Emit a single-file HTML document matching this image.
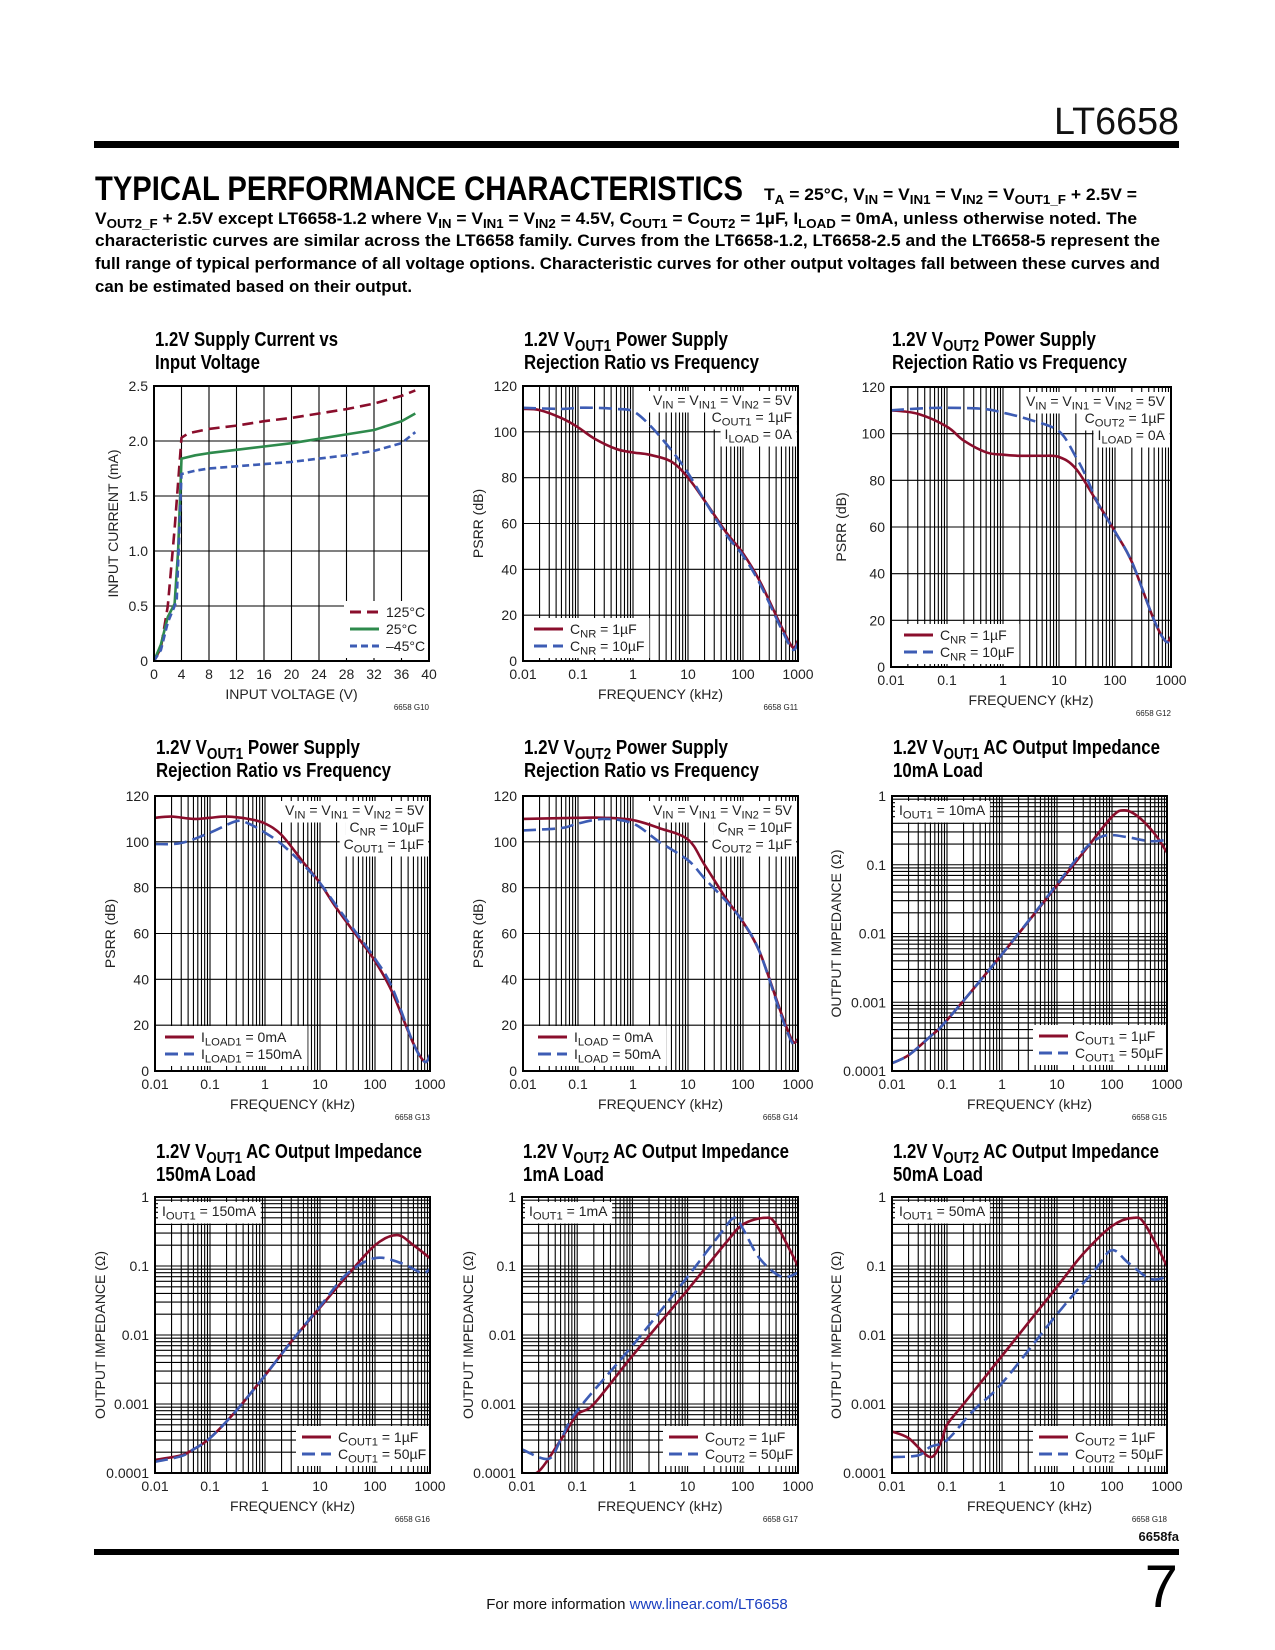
<!DOCTYPE html>
<html><head><meta charset="utf-8"><title>LT6658 Typical Performance Characteristics</title>
<style>
html,body{margin:0;padding:0;background:#fff;}
svg{display:block;font-family:"Liberation Sans",sans-serif;}
</style></head>
<body>
<svg id="page" xmlns="http://www.w3.org/2000/svg" width="1275" height="1650" viewBox="0 0 1275 1650">
<rect x="0" y="0" width="1275" height="1650" fill="#fff"/>
<text x="1179" y="134" text-anchor="end" font-size="38" textLength="125" lengthAdjust="spacingAndGlyphs" fill="#111">LT6658</text>
<rect x="94" y="141" width="1085" height="7" fill="#000"/>
<text x="95" y="200" font-size="34" font-weight="bold" textLength="648" lengthAdjust="spacingAndGlyphs" fill="#000">TYPICAL PERFORMANCE CHARACTERISTICS</text>
<g font-weight="bold" font-size="17" fill="#000">
<text x="764" y="200" textLength="373" lengthAdjust="spacingAndGlyphs">T<tspan font-size="13" dy="4">A</tspan><tspan dy="-4"> = 25°C, V</tspan><tspan font-size="13" dy="4">IN</tspan><tspan dy="-4"> = V</tspan><tspan font-size="13" dy="4">IN1</tspan><tspan dy="-4"> = V</tspan><tspan font-size="13" dy="4">IN2</tspan><tspan dy="-4"> = V</tspan><tspan font-size="13" dy="4">OUT1_F</tspan><tspan dy="-4"> + 2.5V =</tspan></text>
<text x="95" y="224" textLength="1042" lengthAdjust="spacingAndGlyphs">V<tspan font-size="13" dy="4">OUT2_F</tspan><tspan dy="-4"> + 2.5V except LT6658-1.2 where V</tspan><tspan font-size="13" dy="4">IN</tspan><tspan dy="-4"> = V</tspan><tspan font-size="13" dy="4">IN1</tspan><tspan dy="-4"> = V</tspan><tspan font-size="13" dy="4">IN2</tspan><tspan dy="-4"> = 4.5V, C</tspan><tspan font-size="13" dy="4">OUT1</tspan><tspan dy="-4"> = C</tspan><tspan font-size="13" dy="4">OUT2</tspan><tspan dy="-4"> = 1µF, I</tspan><tspan font-size="13" dy="4">LOAD</tspan><tspan dy="-4"> = 0mA, unless otherwise noted. The</tspan></text>
<text x="95" y="246" textLength="1065" lengthAdjust="spacingAndGlyphs">characteristic curves are similar across the LT6658 family. Curves from the LT6658-1.2, LT6658-2.5 and the LT6658-5 represent the</text>
<text x="95" y="269" textLength="1065" lengthAdjust="spacingAndGlyphs">full range of typical performance of all voltage options. Characteristic curves for other output voltages fall between these curves and</text>
<text x="95" y="292" textLength="317" lengthAdjust="spacingAndGlyphs">can be estimated based on their output.</text>
</g>
<defs id="defs"></defs>
<g id="charts"></g>
<text x="1179" y="1541" text-anchor="end" font-size="13" font-weight="bold" fill="#111">6658fa</text>
<rect x="94" y="1549" width="1085" height="6" fill="#000"/>
<text x="1178" y="1607" text-anchor="end" font-size="60" fill="#000">7</text>
<text x="637" y="1609" text-anchor="middle" font-size="15" fill="#111">For more information <tspan fill="#1a3fc0">www.linear.com/LT6658</tspan></text>
</svg>
<script>
// ---- G10 supply current vs input voltage ----
const g10HotVolt=[0,1,2,3,4,5,8,12,16,20,24,28,32,36,38];
const g10Hot=[0,0.12,0.5,1.2,2.03,2.07,2.11,2.14,2.18,2.21,2.25,2.29,2.34,2.41,2.46];
const g10RoomVolt=[0,1,2,3,3.5,4,6,8,12,16,20,24,28,32,36,38];
const g10Room=[0,0.15,0.4,0.52,1.0,1.84,1.87,1.89,1.92,1.95,1.98,2.02,2.06,2.1,2.18,2.25];
const g10ColdVolt=[0,1,2,3,3.3,4,6,8,12,16,20,24,28,32,36,38];
const g10Cold=[0,0.1,0.35,0.5,0.55,1.7,1.73,1.75,1.77,1.79,1.81,1.84,1.87,1.91,1.98,2.08];
const g10XTicks=[0,4,8,12,16,20,24,28,32,36,40];
const g10YTicks=[0,0.5,1.0,1.5,2.0,2.5];
const g10YLabels=['0','0.5','1.0','1.5','2.0','2.5'];
// ---- frequency axis shared ----
const freqTicks=[0.01,0.1,1,10,100,1000];
const freqLabels=['0.01','0.1','1','10','100','1000'];
const psrrTicks=[0,20,40,60,80,100,120];
const zTicks=[0.0001,0.001,0.01,0.1,1];
const zLabels=['0.0001','0.001','0.01','0.1','1'];
// ---- G11 ----
const g11FreqA=[0.01,0.02,0.05,0.1,0.2,0.5,1,2,5,10,20,50,100,200,500,800,1000];
const g11Cnr1=[110,109.5,106,102,97,92.5,91,90,87,80,70,56,47,35,15,6,9];
const g11FreqB=[0.01,0.05,0.1,0.2,0.5,1,2,5,10,20,50,100,200,500,800,1000];
const g11Cnr10=[110.5,110,110.5,110.5,110,109,103,92,82,70,55,46,34,14,5,8];
// ---- G12 ----
const g12FreqA=[0.01,0.03,0.1,0.2,0.5,1,2,5,10,20,50,100,200,500,800,1000];
const g12Cnr1=[110,108.5,103,97,92,91,90.5,90.5,90,85,70,58,45,20,11,13];
const g12FreqB=[0.01,0.05,0.2,0.5,1,3,10,20,30,50,100,200,500,800,1000];
const g12Cnr10=[110,111,111,110.5,109,106,101,90,82,70,58,45,20,11,12];
// ---- G13 ----
const g13FreqA=[0.01,0.02,0.05,0.1,0.2,0.5,1,2,5,10,20,50,100,200,500,800,1000];
const g13Load0=[110.5,111,110,110.5,111,110,108,103,91,82,71,58,48,35,12,4,7];
const g13FreqB=[0.01,0.03,0.1,0.3,0.5,1,2,5,10,20,50,100,200,500,800,1000];
const g13Load150=[99,99.5,104,109,108,104,99,90,82,72,59,49,37,12,4,7];
// ---- G14 ----
const g14FreqA=[0.01,0.1,0.3,1,3,10,20,50,100,200,500,800,1000];
const g14Load0=[110,110.5,110.5,109.5,106,101,90,75,65,52,25,13,14];
const g14FreqB=[0.01,0.05,0.1,0.3,1,3,10,20,50,100,200,500,800,1000];
const g14Load50=[105,106,108,110,108,100,92,84,74,65,52,24,12,13];
// ---- G15 ----
const g15FreqA=[0.01,0.02,0.05,0.1,1,10,30,100,170,300,600,1000];
const g15C1=[0.00013,0.00017,0.00032,0.00055,0.005,0.05,0.15,0.5,0.62,0.5,0.28,0.15];
const g15FreqB=[0.01,0.02,0.05,0.1,1,10,30,60,100,200,500,1000];
const g15C50=[0.00013,0.00017,0.00032,0.00055,0.005,0.052,0.16,0.25,0.27,0.25,0.22,0.23];
// ---- G16 ----
const g16FreqA=[0.01,0.03,0.05,0.1,0.3,1,3,10,30,100,250,500,1000];
const g16C1=[0.000155,0.00018,0.00022,0.00032,0.0008,0.0026,0.008,0.025,0.07,0.2,0.28,0.2,0.13];
const g16FreqB=[0.01,0.03,0.05,0.1,0.3,1,3,10,30,100,300,700,1000];
const g16C50=[0.000145,0.000175,0.00022,0.00032,0.0008,0.0026,0.008,0.026,0.075,0.13,0.11,0.08,0.09];
// ---- G17 ----
const g17FreqA=[0.01,0.02,0.05,0.1,0.2,1,10,50,100,250,400,1000];
const g17C1=[0.0001,0.000105,0.0003,0.0007,0.001,0.005,0.045,0.22,0.4,0.5,0.4,0.1];
const g17FreqB=[0.01,0.03,0.05,0.1,1,10,40,70,100,200,500,1000];
const g17C50=[0.00022,0.00016,0.0003,0.0008,0.007,0.07,0.3,0.5,0.35,0.13,0.07,0.08];
// ---- G18 ----
const g18FreqA=[0.01,0.02,0.05,0.08,0.1,0.2,1,10,30,100,250,400,1000];
const g18C1=[0.0004,0.00032,0.00017,0.0003,0.0005,0.001,0.005,0.05,0.15,0.38,0.5,0.4,0.1];
const g18FreqB=[0.01,0.03,0.05,0.1,0.3,1,10,50,100,200,500,1000];
const g18C50=[0.00017,0.00018,0.00024,0.0003,0.0008,0.002,0.02,0.09,0.17,0.11,0.065,0.07];

const NS='http://www.w3.org/2000/svg';
const RED='#8a0e2c', BLUE='#3d5cb4', GREEN='#2e8a4c';
const root=document.getElementById('charts');
const defs=document.getElementById('defs');

function mk(tag,parent){const e=document.createElementNS(NS,tag);parent.appendChild(e);return e;}
function rich(parent,x,y,str,size,anchor){
  const t=mk('text',parent);
  t.setAttribute('x',x);t.setAttribute('y',y);
  t.setAttribute('font-size',size);t.setAttribute('fill','#222');
  if(anchor)t.setAttribute('text-anchor',anchor);
  const parts=str.split(/(_\{[^}]*\})/);
  let sub=false;
  parts.forEach(p=>{
    if(!p)return;
    const ts=mk('tspan',t);
    if(p.startsWith('_{')){ts.textContent=p.slice(2,-1);ts.setAttribute('font-size',size*0.8);ts.setAttribute('dy',sub?0:size*0.25);sub=true;}
    else{ts.textContent=p;if(sub){ts.setAttribute('dy',-size*0.25);sub=false;}}
  });
  return t;
}
function smoothPath(pts){
  let d='M'+pts[0][0].toFixed(1)+','+pts[0][1].toFixed(1);
  for(let i=0;i<pts.length-1;i++){
    const p0=pts[i-1]||pts[i],p1=pts[i],p2=pts[i+1],p3=pts[i+2]||p2;
    const c1=[p1[0]+(p2[0]-p0[0])/6,p1[1]+(p2[1]-p0[1])/6];
    const c2=[p2[0]-(p3[0]-p1[0])/6,p2[1]-(p3[1]-p1[1])/6];
    d+='C'+c1[0].toFixed(1)+','+c1[1].toFixed(1)+' '+c2[0].toFixed(1)+','+c2[1].toFixed(1)+' '+p2[0].toFixed(1)+','+p2[1].toFixed(1);
  }
  return d;
}
function linePath(pts){return 'M'+pts.map(p=>p[0].toFixed(1)+','+p[1].toFixed(1)).join('L');}

function drawChart(c){
  const g=mk('g',root);
  
  
  const W=c.x1-c.x0,H=c.y1-c.y0;
  const cp=mk('clipPath',defs);cp.setAttribute('id','clip-'+c.id);
  const cr=mk('rect',cp);cr.setAttribute('x',c.x0);cr.setAttribute('y',c.y0);cr.setAttribute('width',W);cr.setAttribute('height',H);
  const sx=c.xlog?(v=>c.x0+(Math.log10(v)-Math.log10(c.xmin))/(Math.log10(c.xmax)-Math.log10(c.xmin))*W):(v=>c.x0+(v-c.xmin)/(c.xmax-c.xmin)*W);
  const sy=c.ylog?(v=>c.y1-(Math.log10(v)-Math.log10(c.ymin))/(Math.log10(c.ymax)-Math.log10(c.ymin))*H):(v=>c.y1-(v-c.ymin)/(c.ymax-c.ymin)*H);
  c.title.forEach((tl,i)=>{
    const t=rich(g,c.x0+1,c.titleY+i*23,tl.s,20,null);
    t.setAttribute('font-weight','bold');t.setAttribute('fill','#000');
    t.setAttribute('textLength',tl.w);t.setAttribute('lengthAdjust','spacingAndGlyphs');
    
    
  });
  const grid=mk('g',g);
  grid.setAttribute('stroke','#000');grid.setAttribute('stroke-width','1.1');
  
  
  const vx=[],hy=[];
  if(c.xlog){for(let d=-2;d<3;d++)for(let m=1;m<10;m++)vx.push(m*Math.pow(10,d));}
  else c.xticks.forEach(v=>vx.push(v));
  if(c.ylog){for(let d=-4;d<0;d++)for(let m=1;m<10;m++)hy.push(m*Math.pow(10,d));}
  else c.yticks.forEach(v=>hy.push(v));
  vx.forEach(v=>{const l=mk('line',grid);const x=sx(v);l.setAttribute('x1',x);l.setAttribute('x2',x);l.setAttribute('y1',c.y0);l.setAttribute('y2',c.y1);});
  hy.forEach(v=>{const l=mk('line',grid);const y=sy(v);l.setAttribute('x1',c.x0);l.setAttribute('x2',c.x1);l.setAttribute('y1',y);l.setAttribute('y2',y);});
  const boxes=mk('g',g);
  const ser=mk('g',g);
  ser.setAttribute('clip-path','url(#clip-'+c.id+')');
  c.series.forEach(s=>{
    const pts=s.x.map((v,i)=>[sx(v),sy(s.y[i])]);
    const p=mk('path',ser);
    p.setAttribute('d',c.smooth?smoothPath(pts):linePath(pts));
    p.setAttribute('fill','none');p.setAttribute('stroke',s.color);p.setAttribute('stroke-width','2.6');
    p.setAttribute('stroke-linejoin','round');
    if(s.dash)p.setAttribute('stroke-dasharray',s.dash);
    
    
  });
  const b=mk('rect',g);
  b.setAttribute('x',c.x0);b.setAttribute('y',c.y0);b.setAttribute('width',W);b.setAttribute('height',H);
  b.setAttribute('fill','none');b.setAttribute('stroke','#000');b.setAttribute('stroke-width','2');
  
  
  c.xticks.forEach((v,i)=>{
    const t=rich(g,sx(v),c.y1+18,c.xlabels?c.xlabels[i]:String(v),14,'middle');
    
    
  });
  c.yticks.forEach((v,i)=>{
    const t=rich(g,c.x0-6,sy(v)+5,c.ylabels?c.ylabels[i]:String(v),14,'end');
    
    
  });
  const xt=rich(g,(c.x0+c.x1)/2,c.y1+38,c.xtitle,14,'middle');
  
  
  const yt=rich(g,0,0,c.ytitle,14,'middle');
  yt.setAttribute('transform','translate('+(c.ytx+5)+','+((c.y0+c.y1)/2)+') rotate(-90)');
  
  
  const num=rich(g,c.x1,c.y1+49,c.code,8,'end');
  
  
  function whiteBehind(t){const bb=t.getBBox();const r=mk('rect',boxes);r.setAttribute('x',bb.x-4);r.setAttribute('y',bb.y-1);r.setAttribute('width',bb.width+8);r.setAttribute('height',bb.height+2);r.setAttribute('fill','#fff');}
  (c.annot||[]).forEach((a,i)=>{
    const t=rich(g,c.annotRight?c.x1-6:c.x0+7,c.y0+c.annotDy+i*17,a,14,c.annotRight?'end':'start');
    
    
    whiteBehind(t);
  });
  const lg=mk('g',g);
  
  
  const lb=mk('rect',boxes);
  lb.setAttribute('fill','#fff');
  let minx=1e9,maxx=-1e9;
  c.legend.forEach((e,i)=>{
    const y=c.y1+c.legDy+i*17;
    const l=mk('line',lg);
    l.setAttribute('x1',c.legX);l.setAttribute('x2',c.legX+29);l.setAttribute('y1',y);l.setAttribute('y2',y);
    l.setAttribute('stroke',e.color);l.setAttribute('stroke-width','3');
    if(e.dash)l.setAttribute('stroke-dasharray',e.dash);
    
    
    const t=rich(lg,c.legX+36,y+5,e.s,14,null);
    
    
    const bb=t.getBBox();minx=Math.min(minx,c.legX-6);maxx=Math.max(maxx,bb.x+bb.width+5);
  });
  const ly=c.y1+c.legDy-11;
  lb.setAttribute('x',minx);lb.setAttribute('y',ly);lb.setAttribute('width',Math.min(maxx,c.x1)-minx);lb.setAttribute('height',c.legend.length*17+6);
}

const psrrY='PSRR (dB)', zY='OUTPUT IMPEDANCE (Ω)', fX='FREQUENCY (kHz)';
const baseLog={xlog:true,xmin:0.01,xmax:1000,xticks:freqTicks,xlabels:freqLabels,xtitle:fX,smooth:true};
const psrr=Object.assign({},baseLog,{ymin:0,ymax:120,yticks:psrrTicks,ytitle:psrrY,annotRight:true,annotDy:19});
const imp=Object.assign({},baseLog,{ylog:true,ymin:0.0001,ymax:1,yticks:zTicks,ylabels:zLabels,ytitle:zY,annotRight:false,annotDy:19});

drawChart({id:'g10',code:'6658 G10',x0:154,y0:386,x1:429,y1:661,xmin:0,xmax:40,ymin:0,ymax:2.5,xticks:g10XTicks,yticks:g10YTicks,ylabels:g10YLabels,
  xtitle:'INPUT VOLTAGE (V)',ytitle:'INPUT CURRENT (mA)',ytx:113,titleY:346,smooth:false,
  title:[{s:'1.2V Supply Current vs',w:183},{s:'Input Voltage',w:105}],
  series:[{name:'series-125c',x:g10HotVolt,y:g10Hot,color:RED,dash:'11,6'},{name:'series-25c',x:g10RoomVolt,y:g10Room,color:GREEN},{name:'series-minus45c',x:g10ColdVolt,y:g10Cold,color:BLUE,dash:'7,4'}],
  legX:350,legDy:-49,legend:[{s:'125°C',color:RED,dash:'11,6'},{s:'25°C',color:GREEN},{s:'–45°C',color:BLUE,dash:'7,4'}]});

drawChart(Object.assign({},psrr,{id:'g11',code:'6658 G11',x0:523,y0:386,x1:798,y1:661,ytx:478,titleY:346,
  title:[{s:'1.2V V_{OUT1} Power Supply',w:204},{s:'Rejection Ratio vs Frequency',w:235}],
  annot:['V_{IN} = V_{IN1} = V_{IN2} = 5V','C_{OUT1} = 1µF','I_{LOAD} = 0A'],
  series:[{name:'series-cnr-1uf',x:g11FreqA,y:g11Cnr1,color:RED},{name:'series-cnr-10uf',x:g11FreqB,y:g11Cnr10,color:BLUE,dash:'13,6'}],
  legX:534,legDy:-32,legend:[{s:'C_{NR} = 1µF',color:RED},{s:'C_{NR} = 10µF',color:BLUE,dash:'13,6'}]}));

drawChart(Object.assign({},psrr,{id:'g12',code:'6658 G12',x0:891,y0:387,x1:1171,y1:667,ytx:841,titleY:346,
  title:[{s:'1.2V V_{OUT2} Power Supply',w:204},{s:'Rejection Ratio vs Frequency',w:235}],
  annot:['V_{IN} = V_{IN1} = V_{IN2} = 5V','C_{OUT2} = 1µF','I_{LOAD} = 0A'],
  series:[{name:'series-cnr-1uf',x:g12FreqA,y:g12Cnr1,color:RED},{name:'series-cnr-10uf',x:g12FreqB,y:g12Cnr10,color:BLUE,dash:'13,6'}],
  legX:904,legDy:-32,legend:[{s:'C_{NR} = 1µF',color:RED},{s:'C_{NR} = 10µF',color:BLUE,dash:'13,6'}]}));

drawChart(Object.assign({},psrr,{id:'g13',code:'6658 G13',x0:155,y0:796,x1:430,y1:1071,ytx:110,titleY:754,
  title:[{s:'1.2V V_{OUT1} Power Supply',w:204},{s:'Rejection Ratio vs Frequency',w:235}],
  annot:['V_{IN} = V_{IN1} = V_{IN2} = 5V','C_{NR} = 10µF','C_{OUT1} = 1µF'],
  series:[{name:'series-iload-0ma',x:g13FreqA,y:g13Load0,color:RED},{name:'series-iload-150ma',x:g13FreqB,y:g13Load150,color:BLUE,dash:'13,6'}],
  legX:165,legDy:-34,legend:[{s:'I_{LOAD1} = 0mA',color:RED},{s:'I_{LOAD1} = 150mA',color:BLUE,dash:'13,6'}]}));

drawChart(Object.assign({},psrr,{id:'g14',code:'6658 G14',x0:523,y0:796,x1:798,y1:1071,ytx:478,titleY:754,
  title:[{s:'1.2V V_{OUT2} Power Supply',w:204},{s:'Rejection Ratio vs Frequency',w:235}],
  annot:['V_{IN} = V_{IN1} = V_{IN2} = 5V','C_{NR} = 10µF','C_{OUT2} = 1µF'],
  series:[{name:'series-iload-0ma',x:g14FreqA,y:g14Load0,color:RED},{name:'series-iload-50ma',x:g14FreqB,y:g14Load50,color:BLUE,dash:'13,6'}],
  legX:538,legDy:-34,legend:[{s:'I_{LOAD} = 0mA',color:RED},{s:'I_{LOAD} = 50mA',color:BLUE,dash:'13,6'}]}));

drawChart(Object.assign({},imp,{id:'g15',code:'6658 G15',x0:892,y0:796,x1:1167,y1:1071,ytx:836,titleY:754,
  title:[{s:'1.2V V_{OUT1} AC Output Impedance',w:267},{s:'10mA Load',w:90}],
  annot:['I_{OUT1} = 10mA'],
  series:[{name:'series-cout1-1uf',x:g15FreqA,y:g15C1,color:RED},{name:'series-cout1-50uf',x:g15FreqB,y:g15C50,color:BLUE,dash:'13,6'}],
  legX:1039,legDy:-35,legend:[{s:'C_{OUT1} = 1µF',color:RED},{s:'C_{OUT1} = 50µF',color:BLUE,dash:'13,6'}]}));

drawChart(Object.assign({},imp,{id:'g16',code:'6658 G16',x0:155,y0:1197,x1:430,y1:1473,ytx:100,titleY:1158,
  title:[{s:'1.2V V_{OUT1} AC Output Impedance',w:266},{s:'150mA Load',w:100}],
  annot:['I_{OUT1} = 150mA'],
  series:[{name:'series-cout1-1uf',x:g16FreqA,y:g16C1,color:RED},{name:'series-cout1-50uf',x:g16FreqB,y:g16C50,color:BLUE,dash:'13,6'}],
  legX:302,legDy:-36,legend:[{s:'C_{OUT1} = 1µF',color:RED},{s:'C_{OUT1} = 50µF',color:BLUE,dash:'13,6'}]}));

drawChart(Object.assign({},imp,{id:'g17',code:'6658 G17',x0:522,y0:1197,x1:798,y1:1473,ytx:468,titleY:1158,
  title:[{s:'1.2V V_{OUT2} AC Output Impedance',w:266},{s:'1mA Load',w:81}],
  annot:['I_{OUT1} = 1mA'],
  series:[{name:'series-cout2-1uf',x:g17FreqA,y:g17C1,color:RED},{name:'series-cout2-50uf',x:g17FreqB,y:g17C50,color:BLUE,dash:'13,6'}],
  legX:669,legDy:-36,legend:[{s:'C_{OUT2} = 1µF',color:RED},{s:'C_{OUT2} = 50µF',color:BLUE,dash:'13,6'}]}));

drawChart(Object.assign({},imp,{id:'g18',code:'6658 G18',x0:892,y0:1197,x1:1167,y1:1473,ytx:836,titleY:1158,
  title:[{s:'1.2V V_{OUT2} AC Output Impedance',w:266},{s:'50mA Load',w:90}],
  annot:['I_{OUT1} = 50mA'],
  series:[{name:'series-cout2-1uf',x:g18FreqA,y:g18C1,color:RED},{name:'series-cout2-50uf',x:g18FreqB,y:g18C50,color:BLUE,dash:'13,6'}],
  legX:1039,legDy:-36,legend:[{s:'C_{OUT2} = 1µF',color:RED},{s:'C_{OUT2} = 50µF',color:BLUE,dash:'13,6'}]}));
</script>
</body></html>
